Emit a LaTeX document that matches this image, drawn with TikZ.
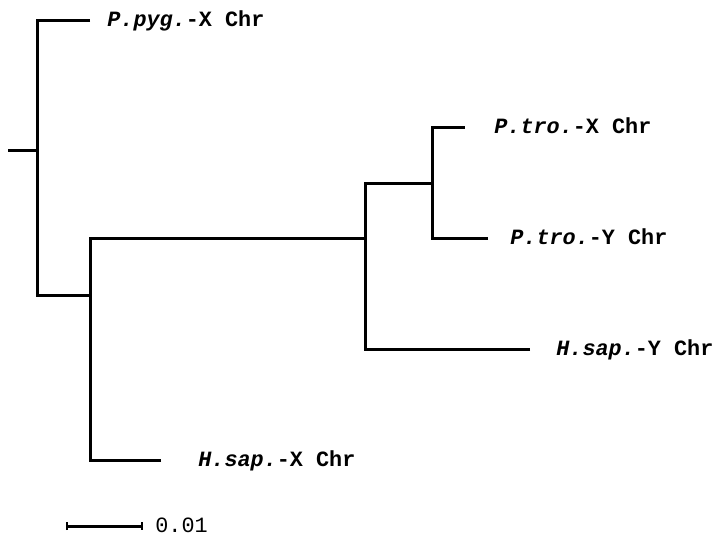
\documentclass[tikz,border=0pt]{standalone}
\usepackage{fontspec}
\setmonofont{Liberation Mono}
\usetikzlibrary{arrows.meta}

\begin{document}
\begin{tikzpicture}[x=0.5pt,y=-0.5pt,
  ramo/.style={line width=1.5pt, line join=miter, line cap=butt},
  foglia/.style={anchor=base west, inner sep=0pt, font=\fontsize{10.9}{13}\selectfont\ttfamily\bfseries},
  scala/.style={anchor=base west, inner sep=0pt, font=\fontsize{10.9}{13}\selectfont\ttfamily}]
\useasboundingbox (0,0) rectangle (718,542);

\coordinate (r0) at (8,150);
\coordinate (n1) at (37,150);
\coordinate (n2) at (90,295);
\coordinate (n3) at (365,238);
\coordinate (n4) at (432,183);

\coordinate (pyg) at (90,20);
\coordinate (ptx) at (465,127);
\coordinate (pty) at (488,238);
\coordinate (hsy) at (530,349);
\coordinate (hsx) at (161,460);

\draw[ramo] (r0) -- (n1);
\draw[ramo] (pyg) -| (n1) |- (n2);
\draw[ramo] (hsx) -| (n2) |- (n3);
\draw[ramo] (hsy) -| (n3) |- (n4);
\draw[ramo] (pty) -| (n4) |- (ptx);

\node[foglia] (lpyg) at (107,26) {\textit{P.pyg.}-X Chr};
\node[foglia] (lptx) at (494,133) {\textit{P.tro.}-X Chr};
\node[foglia] (lpty) at (510,244) {\textit{P.tro.}-Y Chr};
\node[foglia] (lhsy) at (556,355) {\textit{H.sap.}-Y Chr};
\node[foglia] (lhsx) at (198,466) {\textit{H.sap.}-X Chr};

% barra di scala
\coordinate (s1) at (66,526);
\coordinate (s2) at (143,526);
\draw[line width=1.5pt, {Bar[width=4pt,line width=0.8pt]}-{Bar[width=4pt,line width=0.8pt]}] (s1) -- (s2);
\node[scala] (ls) at (155,532) {0.01};

\end{tikzpicture}
\end{document}
